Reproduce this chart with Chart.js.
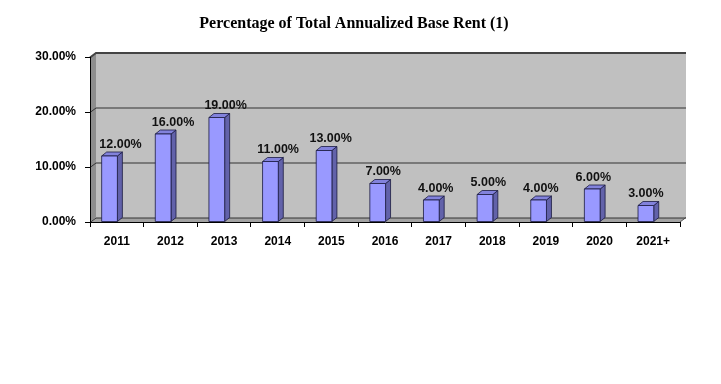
<!DOCTYPE html>
<html>
<head>
<meta charset="utf-8">
<script src="https://cdn.jsdelivr.net/npm/chart.js@4.4.1/dist/chart.umd.min.js"></script>
<style>
    html, body { margin: 0; padding: 0; background: #fff; }
    #wrap { width: 721px; height: 384px; }
</style>
</head>
<body>
<div id="wrap"><canvas id="rentChart" width="721" height="384"></canvas></div>
<script>
// Chart data
const years = ['2011', '2012', '2013', '2014', '2015', '2016', '2017', '2018', '2019', '2020', '2021+'];
const rentShare = [12, 16, 19, 11, 13, 7, 4, 5, 4, 6, 3];
const yMin = 0;
const yMax = 30;
const yStep = 10;

// 3D look
const WALL_DX = 6, WALL_DY = 4.5;
const BAR_DX = 5, BAR_DY = 4;
const BAR_SHIFT = -7.3;   // front face sits left of the category centre
const LABEL_DRIFT = 11;   // labels drift right on the left side of the chart

const labelFont = { family: 'Liberation Sans, Arial, sans-serif', weight: 'bold', size: 12 };

function poly(ctx, pts) {
    ctx.beginPath();
    ctx.moveTo(pts[0][0], pts[0][1]);
    for (let i = 1; i < pts.length; i++) ctx.lineTo(pts[i][0], pts[i][1]);
    ctx.closePath();
}

const wallsPlugin = {
    id: 'walls',
    beforeDraw(chart) {
        const ctx = chart.ctx;
        const a = chart.chartArea;
        const ys = chart.scales.y;
        ctx.save();
        // back wall
        ctx.fillStyle = '#c0c0c0';
        ctx.fillRect(a.left + WALL_DX, a.top - WALL_DY, a.right - a.left, a.bottom - a.top);
        // left wall
        ctx.fillStyle = '#8e8e8e';
        poly(ctx, [[a.left, a.bottom], [a.left, a.top], [a.left + WALL_DX, a.top - WALL_DY], [a.left + WALL_DX, a.bottom - WALL_DY]]);
        ctx.fill();
        // floor
        ctx.fillStyle = '#a2a2a2';
        poly(ctx, [[a.left, a.bottom], [a.right, a.bottom], [a.right + WALL_DX, a.bottom - WALL_DY], [a.left + WALL_DX, a.bottom - WALL_DY]]);
        ctx.fill();
        ctx.strokeStyle = '#555';
        ctx.lineWidth = 1;
        ctx.beginPath();
        ctx.moveTo(a.right, a.bottom);
        ctx.lineTo(a.right + WALL_DX, a.bottom - WALL_DY);
        ctx.stroke();
        // gridlines on left and back wall
        ys.ticks.forEach(function(t) {
            const y = Math.round(ys.getPixelForValue(t.value)) + 0.5;
            ctx.strokeStyle = t.value === yMax ? '#444' : '#333';
            ctx.lineWidth = t.value === yMax ? 2 : 1;
            ctx.beginPath();
            ctx.moveTo(a.left, y);
            ctx.lineTo(a.left + WALL_DX, y - WALL_DY);
            ctx.lineTo(a.right + WALL_DX, y - WALL_DY);
            ctx.stroke();
        });
        ctx.restore();
    }
};

const barsPlugin = {
    id: 'bars3d',
    afterDatasetsDraw(chart) {
        const ctx = chart.ctx;
        const meta = chart.getDatasetMeta(0);
        const n = meta.data.length;
        ctx.save();
        ctx.lineWidth = 0.8;
        ctx.strokeStyle = '#1a1a40';
        meta.data.forEach(function(bar) {
            const p = bar.getProps(['x', 'y', 'base', 'width'], true);
            const l = p.x - p.width / 2 + BAR_SHIFT;
            const r = l + p.width;
            const t = p.y, b = p.base;
            // side
            ctx.fillStyle = '#6262aa';
            poly(ctx, [[r, t], [r + BAR_DX, t - BAR_DY], [r + BAR_DX, b - BAR_DY], [r, b]]);
            ctx.fill(); ctx.stroke();
            // top
            ctx.fillStyle = '#8282dc';
            poly(ctx, [[l, t], [l + BAR_DX, t - BAR_DY], [r + BAR_DX, t - BAR_DY], [r, t]]);
            ctx.fill(); ctx.stroke();
            // front
            ctx.fillStyle = '#9999ff';
            poly(ctx, [[l, t], [r, t], [r, b], [l, b]]);
            ctx.fill(); ctx.stroke();
        });
        // value labels
        ctx.font = 'bold 12.5px ' + labelFont.family;
        ctx.fillStyle = '#111';
        ctx.textAlign = 'center';
        ctx.textBaseline = 'alphabetic';
        meta.data.forEach(function(bar, i) {
            const p = bar.getProps(['x', 'y', 'width'], true);
            const cx = p.x + BAR_SHIFT + LABEL_DRIFT * (n - 1 - i) / (n - 1);
            ctx.fillText(rentShare[i].toFixed(2) + '%', cx, p.y - 8.5);
        });
        ctx.restore();
    }
};

new Chart(document.getElementById('rentChart').getContext('2d'), {
    type: 'bar',
    data: {
        labels: years,
        datasets: [{
            label: 'Percentage of Total Annualized Base Rent',
            data: rentShare,
            backgroundColor: 'rgba(0,0,0,0)',
            borderWidth: 0,
            barPercentage: 0.293,
            categoryPercentage: 1
        }]
    },
    options: {
        responsive: false,
        animation: false,
        layout: { padding: { left: 28, right: 41, top: 0, bottom: 0 } },
        plugins: {
            legend: { display: false },
            tooltip: { enabled: false },
            title: {
                display: true,
                text: 'Percentage of Total Annualized Base Rent (1)',
                color: '#000',
                font: { family: 'Liberation Serif, Times New Roman, serif', weight: 'bold', size: 16 },
                padding: { top: 14, bottom: 23.8 }
            }
        },
        scales: {
            x: {
                grid: { drawOnChartArea: false, offset: true, tickLength: 5, color: '#000' },
                border: { display: true, color: '#000', width: 1 },
                ticks: { font: labelFont, color: '#000', padding: 7, maxRotation: 0, autoSkip: false },
                afterFit: function(scale) { scale.height = 162; }
            },
            y: {
                min: yMin,
                max: yMax,
                grid: { drawOnChartArea: false, tickLength: 5, color: '#000' },
                border: { display: true, color: '#000', width: 1 },
                ticks: {
                    stepSize: yStep,
                    font: labelFont,
                    color: '#000',
                    padding: 9,
                    callback: function(value) {
                        return value.toFixed(2) + '%';
                    }
                },
                afterFit: function(scale) { scale.width = 62; }
            }
        }
    },
    plugins: [wallsPlugin, barsPlugin]
});
</script>
</body>
</html>
